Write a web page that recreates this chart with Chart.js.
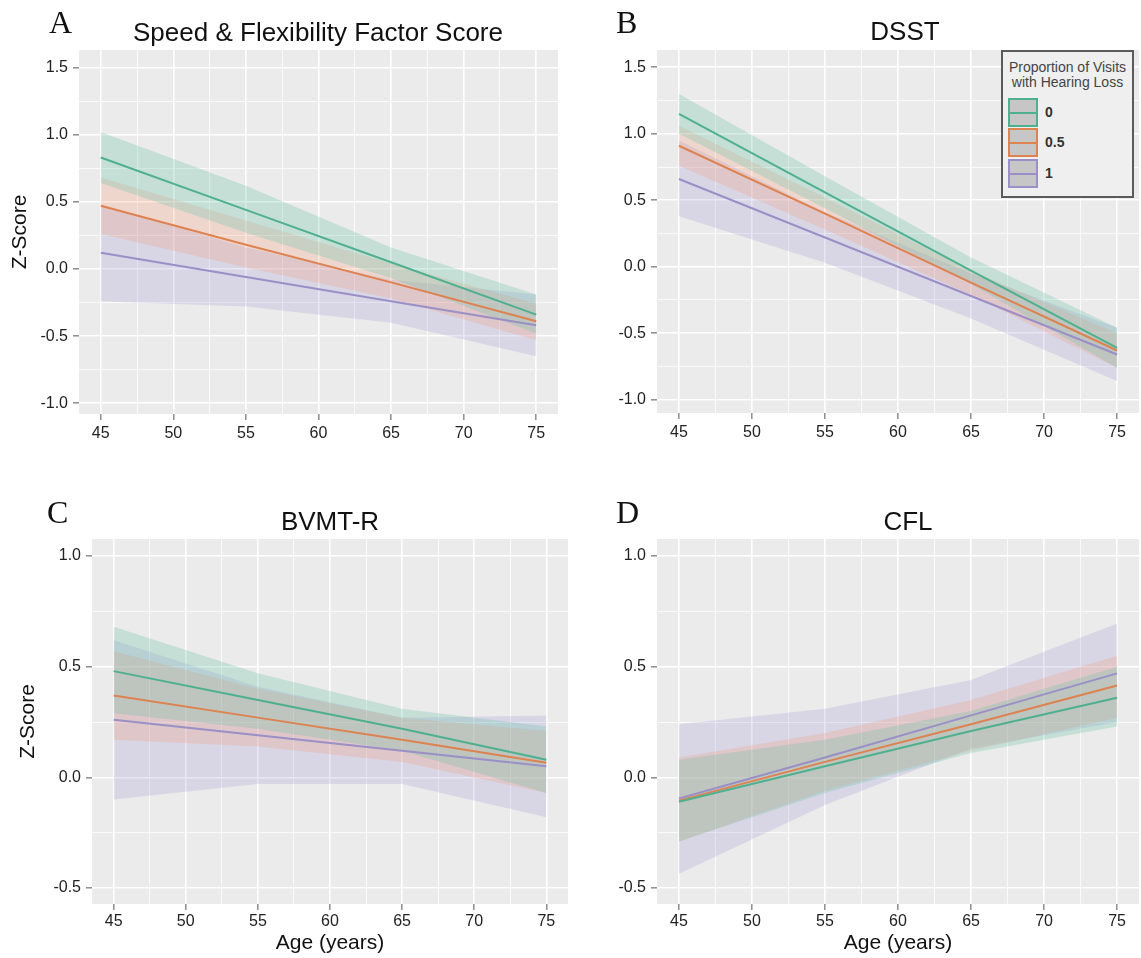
<!DOCTYPE html>
<html>
<head>
<meta charset="utf-8">
<script src="https://cdn.jsdelivr.net/npm/chart.js@4.4.0/dist/chart.umd.min.js"></script>
<style>
  body { margin:0; background:#fff; font-family:"Liberation Sans", Arial, sans-serif; }
  #fig { position:relative; width:1141px; height:958px; overflow:hidden; }
  #fig canvas { position:absolute; }
  .lt { position:absolute; font-family:"Liberation Serif", "Times New Roman", serif; font-size:32px; line-height:32px; color:#111; }
  .ttl { position:absolute; width:400px; text-align:center; font-size:26px; line-height:30px; color:#111; }
  #leg { position:absolute; left:1001px; top:50px; width:133px; height:148px; box-sizing:border-box;
         border:2px solid #5a5a5a; background:#efefef; }
  #leg .lgt { position:absolute; left:0; top:8px; width:100%; text-align:center; font-size:14px; line-height:15px; color:#444; }
  #leg .sw { position:absolute; left:5px; width:30px; height:29px; box-sizing:border-box; border:2px solid; background:#c6c6c6; }
  #leg .sw i { position:absolute; left:0; right:0; top:12px; height:2px; }
  #leg .lab { position:absolute; left:42px; font-size:14px; font-weight:bold; line-height:29px; color:#333; }
</style>
</head>
<body>
<div id="fig">
  <canvas id="cA" width="570" height="460" style="left:0;top:0"></canvas>
  <canvas id="cB" width="571" height="460" style="left:570px;top:0"></canvas>
  <canvas id="cC" width="570" height="488" style="left:0;top:470px"></canvas>
  <canvas id="cD" width="571" height="488" style="left:570px;top:470px"></canvas>

  <div class="lt" style="left:49px;top:6px">A</div>
  <div class="lt" style="left:616px;top:6px">B</div>
  <div class="lt" style="left:47px;top:496px">C</div>
  <div class="lt" style="left:616px;top:496px">D</div>

  <div class="ttl" style="left:118px;top:17px">Speed &amp; Flexibility Factor Score</div>
  <div class="ttl" style="left:705px;top:16px">DSST</div>
  <div class="ttl" style="left:130px;top:506px">BVMT-R</div>
  <div class="ttl" style="left:708px;top:506px">CFL</div>

  <div id="leg"></div>
</div>

<script>
const ages = [45, 55, 65, 75];
const groups = ["0", "0.5", "1"];
const lineCols = ["#4fb08f", "#dd8250", "#9a8fc6"];
const bandCols = ["rgba(102,194,165,0.28)", "rgba(252,141,98,0.22)", "rgba(150,140,210,0.22)"];

const xGrid = [45, 47.5, 50, 52.5, 55, 57.5, 60, 62.5, 65, 67.5, 70, 72.5, 75];
const yGridTall = [-1, -0.75, -0.5, -0.25, 0, 0.25, 0.5, 0.75, 1, 1.25, 1.5];
const yGridShort = [-0.5, -0.25, 0, 0.25, 0.5, 0.75, 1];

// A: Speed & Flexibility Factor Score
const speedFit0 = [0.83, 0.44, 0.05, -0.34];
const speedHi0  = [1.02, 0.62, 0.16, -0.19];
const speedLo0  = [0.64, 0.27, -0.07, -0.48];
const speedFit1 = [0.47, 0.18, -0.10, -0.39];
const speedHi1  = [0.68, 0.36, 0.04, -0.26];
const speedLo1  = [0.26, 0.01, -0.22, -0.53];
const speedFit2 = [0.12, -0.06, -0.24, -0.42];
const speedHi2  = [0.48, 0.16, -0.08, -0.19];
const speedLo2  = [-0.24, -0.28, -0.40, -0.65];

// B: DSST
const dsstFit0 = [1.15, 0.56, -0.03, -0.61];
const dsstHi0  = [1.30, 0.68, 0.07, -0.46];
const dsstLo0  = [1.00, 0.44, -0.13, -0.76];
const dsstFit1 = [0.91, 0.40, -0.12, -0.63];
const dsstHi1  = [1.06, 0.52, -0.03, -0.50];
const dsstLo1  = [0.76, 0.28, -0.21, -0.76];
const dsstFit2 = [0.66, 0.22, -0.22, -0.66];
const dsstHi2  = [0.95, 0.41, -0.05, -0.46];
const dsstLo2  = [0.38, 0.03, -0.39, -0.86];

// C: BVMT-R
const bvmtFit0 = [0.48, 0.35, 0.22, 0.08];
const bvmtHi0  = [0.68, 0.47, 0.31, 0.23];
const bvmtLo0  = [0.29, 0.22, 0.12, -0.07];
const bvmtFit1 = [0.37, 0.27, 0.17, 0.066];
const bvmtHi1  = [0.57, 0.40, 0.27, 0.21];
const bvmtLo1  = [0.17, 0.14, 0.07, -0.07];
const bvmtFit2 = [0.26, 0.19, 0.12, 0.05];
const bvmtHi2  = [0.62, 0.41, 0.27, 0.28];
const bvmtLo2  = [-0.10, -0.03, -0.03, -0.18];

// D: CFL
const cflFit0 = [-0.11, 0.05, 0.21, 0.36];
const cflHi0  = [0.08, 0.17, 0.30, 0.50];
const cflLo0  = [-0.29, -0.07, 0.11, 0.23];
const cflFit1 = [-0.105, 0.07, 0.24, 0.415];
const cflHi1  = [0.09, 0.20, 0.35, 0.55];
const cflLo1  = [-0.29, -0.06, 0.12, 0.27];
const cflFit2 = [-0.095, 0.09, 0.28, 0.47];
const cflHi2  = [0.24, 0.31, 0.44, 0.695];
const cflLo2  = [-0.435, -0.125, 0.13, 0.25];

const pts = arr => ages.map((a, i) => ({ x: a, y: arr[i] }));

const plotBg = {
  id: "plotBg",
  beforeDraw(c) {
    const { ctx, chartArea: a } = c;
    ctx.save();
    ctx.fillStyle = "#ebebeb";
    ctx.fillRect(a.left, a.top, a.right - a.left, a.bottom - a.top);
    ctx.restore();
  }
};

const isMajorX = v => v % 5 === 0;
const isMajorY = v => Math.abs(v * 2 - Math.round(v * 2)) < 1e-6;
const tickFont = { family: "'Liberation Sans', Arial, sans-serif", size: 16 };
const titleFont = { family: "'Liberation Sans', Arial, sans-serif", size: 21 };

function panel(id, fits, his, los, p) {
  const datasets = [];
  fits.forEach((f, g) => datasets.push({
    data: pts(f), borderColor: lineCols[g], borderWidth: 2, pointRadius: 0, fill: false, tension: 0
  }));
  his.forEach((h, g) => {
    const loIdx = datasets.length;
    datasets.push({ data: pts(los[g]), borderWidth: 0, borderColor: "transparent", pointRadius: 0, fill: false });
    datasets.push({ data: pts(h), borderWidth: 0, borderColor: "transparent", pointRadius: 0,
                    backgroundColor: bandCols[g], fill: { target: loIdx } });
  });

  new Chart(document.getElementById(id), {
    type: "line",
    data: { datasets },
    plugins: [plotBg],
    options: {
      responsive: false, animation: false, devicePixelRatio: 1,
      layout: { padding: { left: 0, right: p.padR, top: p.padT, bottom: 0 } },
      plugins: { legend: { display: false }, tooltip: { enabled: false } },
      scales: {
        x: {
          type: "linear", min: 43.5, max: 76.5,
          afterBuildTicks: s => { s.ticks = xGrid.map(v => ({ value: v })); },
          afterFit: s => { s.height = p.xH; },
          border: { display: false },
          grid: {
            color: "#ffffff",
            lineWidth: c => isMajorX(c.tick.value) ? 1.6 : 0.8,
            tickColor: c => isMajorX(c.tick.value) ? "#8c8c8c" : "rgba(0,0,0,0)",
            tickLength: 6, tickWidth: 1.5
          },
          ticks: {
            autoSkip: false, maxRotation: 0, padding: p.xTitle ? 2 : 4, color: "#222", font: tickFont,
            callback: v => isMajorX(v) ? String(v) : ""
          },
          title: { display: !!p.xTitle, text: p.xTitle || "", color: "#111", font: titleFont,
                   padding: { top: 0, bottom: 2 } }
        },
        y: {
          type: "linear", min: p.yMin, max: p.yMax,
          afterBuildTicks: s => { s.ticks = p.yGrid.map(v => ({ value: v })); },
          afterFit: s => { s.width = p.yW; },
          border: { display: false },
          grid: {
            color: "#ffffff",
            lineWidth: c => isMajorY(c.tick.value) ? 1.6 : 0.8,
            tickColor: c => isMajorY(c.tick.value) ? "#8c8c8c" : "rgba(0,0,0,0)",
            tickLength: 6, tickWidth: 1.5
          },
          ticks: {
            autoSkip: false, padding: 5, color: "#222", font: tickFont,
            callback: v => isMajorY(v) ? v.toFixed(1) : ""
          },
          title: { display: !!p.yTitle, text: p.yTitle || "", color: "#111", font: titleFont,
                   padding: { top: p.yTitlePad || 0, bottom: 0 } }
        }
      }
    }
  });
}

panel("cA", [speedFit0, speedFit1, speedFit2], [speedHi0, speedHi1, speedHi2], [speedLo0, speedLo1, speedLo2],
  { yW: 79, padR: 12, padT: 50, xH: 46, yMin: -1.08, yMax: 1.63, yGrid: yGridTall, yTitle: "Z-Score", yTitlePad: 8 });
panel("cB", [dsstFit0, dsstFit1, dsstFit2], [dsstHi0, dsstHi1, dsstHi2], [dsstLo0, dsstLo1, dsstLo2],
  { yW: 87, padR: 2, padT: 50, xH: 47, yMin: -1.10, yMax: 1.63, yGrid: yGridTall });
panel("cC", [bvmtFit0, bvmtFit1, bvmtFit2], [bvmtHi0, bvmtHi1, bvmtHi2], [bvmtLo0, bvmtLo1, bvmtLo2],
  { yW: 92, padR: 2, padT: 69, xH: 54, yMin: -0.572, yMax: 1.077, yGrid: yGridShort,
    yTitle: "Z-Score", yTitlePad: 16, xTitle: "Age (years)" });
panel("cD", [cflFit0, cflFit1, cflFit2], [cflHi0, cflHi1, cflHi2], [cflLo0, cflLo1, cflLo2],
  { yW: 87, padR: 2, padT: 69, xH: 54, yMin: -0.572, yMax: 1.077, yGrid: yGridShort, xTitle: "Age (years)" });

// legend (panel B)
const leg = document.getElementById("leg");
const swTops = [46, 76, 107];
leg.innerHTML = `<div class="lgt">Proportion of Visits<br>with Hearing Loss</div>` +
  groups.map((g, i) => `
    <div class="sw" style="top:${swTops[i]}px;border-color:${lineCols[i]}"><i style="background:${lineCols[i]}"></i></div>
    <div class="lab" style="top:${swTops[i]}px">${g}</div>`).join("");
</script>
</body>
</html>
